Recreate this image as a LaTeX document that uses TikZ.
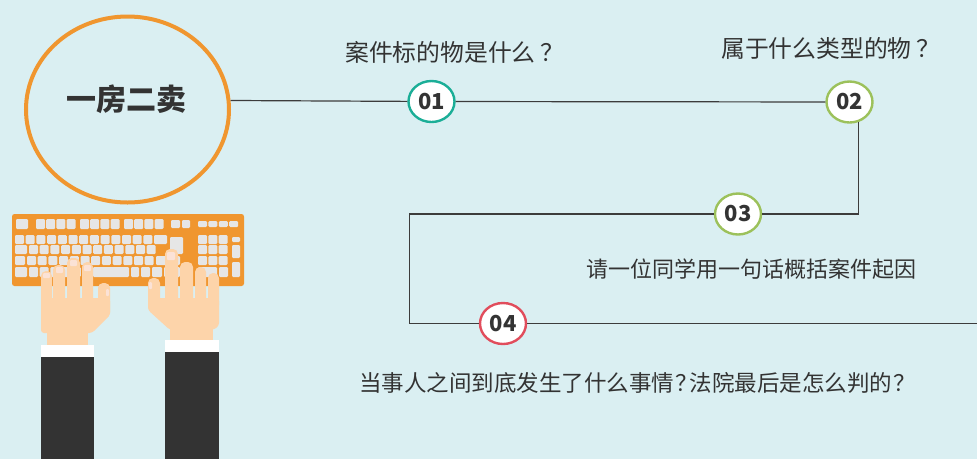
\documentclass[tikz,border=0pt]{standalone}
\usepackage{fontspec}
\setmainfont{Noto Sans CJK SC}
\usetikzlibrary{shapes.geometric}
\definecolor{bg}{HTML}{DAEFF2}
\definecolor{ink}{HTML}{333333}
\definecolor{wire}{HTML}{3C3C3C}
\definecolor{accent}{HTML}{F0962F}
\definecolor{teal}{HTML}{1BAE97}
\definecolor{leaf}{HTML}{9CC15B}
\definecolor{rose}{HTML}{E14D5C}
\definecolor{keycap}{HTML}{E6E6E6}
\definecolor{skin}{HTML}{FDD4AA}
\definecolor{nail}{HTML}{FBE2D6}
\definecolor{suit}{HTML}{333333}
% question marks: one set a little apart, one set tighter
\newcommand\wideq{\kern0.2em？\kern-0.2em}
\newcommand\tightq{\kern0.05em？\kern-0.35em}
\tikzset{
  badge/.style={ellipse, draw=#1, line width=2.4pt, fill=white,
    minimum width=46pt, minimum height=41pt, inner sep=0pt,
    font=\fontsize{22}{22}\selectfont\bfseries, text=ink},
  question/.style={anchor=west, inner sep=0pt, text=ink,
    font=\fontsize{22}{22}\selectfont},
  bigquestion/.style={question, font=\fontsize{23.8}{24}\selectfont},
  longquestion/.style={question, font=\fontsize{22.5}{23}\selectfont},
  wireline/.style={draw=wire, line width=1.2pt},
  key/.style={fill=keycap, rounded corners=1.2pt},
  finger/.style={fill=skin, rounded corners=5pt},
}
\begin{document}
\begin{tikzpicture}[x=1pt,y=-1pt]
\fill[bg] (0,0) rectangle (977,459);
\useasboundingbox (0,0) rectangle (977,459);

% ---------- keyboard ----------
\fill[accent, rounded corners=2.5pt] (12,214) rectangle (244,286);
% function row
\fill[key] (16,219) rectangle (28,229);
\foreach \gx in {36,80,124}{
  \foreach \i in {0,...,3}{
    \fill[key] ({\gx+10.2*\i},219) rectangle ({\gx+10.2*\i+9},229);
  }
}
\fill[key] (171,220) rectangle (180,228);
\fill[key] (182,220) rectangle (190,228);
\foreach \i in {0,...,3}{
  \fill[key] ({198+10.4*\i},221) rectangle ({198+10.4*\i+9},227);
}
% number row
\foreach \i in {0,...,12}{
  \fill[key] ({15+10.7*\i},235) rectangle ({15+10.7*\i+9},244);
}
\fill[key] (154,235) rectangle (167,244);
\fill[key] (170,237) rectangle (183,254);
% upper letter row
\fill[key] (15,245) rectangle (27,254);
\foreach \i in {0,...,11}{
  \fill[key] ({29+10.7*\i},245) rectangle ({29+10.7*\i+9},254);
}
% home row
\fill[key] (15,256) rectangle (25,265);
\foreach \i in {0,...,11}{
  \fill[key] ({27+10.7*\i},256) rectangle ({27+10.7*\i+9},265);
}
\fill[key] (156,256) rectangle (180,265);
% bottom row
\fill[key] (15,267) rectangle (27,277);
\foreach \i in {0,...,5}{
  \fill[key] ({29+10.7*\i},267) rectangle ({29+10.7*\i+9},277);
}
\fill[key] (93,267) rectangle (129,277);
\fill[key] (131,267) rectangle (139,277);
\fill[key] (141,267) rectangle (150,277);
\fill[key] (152,267) rectangle (162,277);
\fill[key] (164,267) rectangle (180,277);
% numeric pad
\foreach \r in {235,245,256}{
  \foreach \i in {0,...,2}{
    \fill[key] ({198+10.3*\i},\r) rectangle ({198+10.3*\i+9},{\r+9});
  }
}
\fill[key] (198,267) rectangle (217,277);
\fill[key] (219,267) rectangle (228,277);
\fill[key] (232,237) rectangle (240,242);
\fill[key] (232,245) rectangle (240,258);
\fill[key] (232,262) rectangle (240,277);

% ---------- left hand ----------
\fill[skin] (47,320) rectangle (88,346);
\fill[skin, rounded corners=3pt] (41,298) -- (110,298) -- (110,315) -- (92,333)
  -- (41,333) -- cycle;
\fill[finger] (41,271) rectangle (52,318);
\fill[finger] (53,265) rectangle (65,318);
\fill[finger] (67,258) rectangle (80,318);
\fill[finger] (82,262) rectangle (93,318);
\fill[finger] (98,283) rectangle (110,318);
\fill[nail, rounded corners=1pt] (43,273) rectangle (50,278);
\fill[nail, rounded corners=1pt] (56,267) rectangle (63,273);
\fill[nail, rounded corners=1pt] (70,260) rectangle (77,266);
\fill[nail, rounded corners=1pt] (84,265) rectangle (91,271);
\fill[nail, rounded corners=1pt] (106,289) rectangle (109,296);
\fill[white] (41,345) rectangle (94,357);
\fill[suit] (41,357) rectangle (94,459);

% ---------- right hand ----------
\fill[skin] (170,320) rectangle (213,341);
\fill[skin, rounded corners=3pt] (148,298) -- (219,298) -- (219,326) -- (213,330)
  -- (170,330) -- (148,310) -- cycle;
\fill[finger] (148,278) rectangle (160,312);
\fill[finger] (165,249) rectangle (178,310);
\fill[finger] (180,262) rectangle (193,310);
\fill[finger] (195,267) rectangle (206,310);
\fill[finger] (208,273) rectangle (219,310);
\fill[nail, rounded corners=1pt] (149,282) rectangle (152,289);
\fill[nail, rounded corners=1pt] (167,252) rectangle (175,260);
\fill[white] (165,340) rectangle (219,352);
\fill[suit] (165,352) rectangle (219,459);

% ---------- topic ----------
\node[ellipse, draw=accent, line width=4pt, minimum width=203pt,
  minimum height=186pt, inner sep=0pt] (topic) at (127.5,109.5) {};
\node[inner sep=0pt, text=ink, font=\fontsize{30}{30}\selectfont\bfseries]
  (title) at (126,99.5) {一房二卖};

% ---------- numbered steps ----------
\node[badge=teal] (n01) at (431.5,101.5) {01};
\node[badge=leaf] (n02) at (849.5,102) {02};
\node[badge=leaf] (n03) at (738,214) {03};
\node[badge=rose] (n04) at (503,323.5) {04};
\coordinate (turn) at (409.5,323.5);
\coordinate (tail) at (977,323.5);

\draw[wireline] (topic.5) -- (n01);
\draw[wireline] (n01) -- (n02);
\draw[wireline] (n02.-65) |- (n03);
\draw[wireline] (n03) -| (turn) -- (n04);
\draw[wireline] (n04) -- (tail);

% ---------- questions ----------
\node[bigquestion] (q1) at (345,52.5) {案件标的物是什么\wideq};
\node[bigquestion] (q2) at (721,48) {属于什么类型的物\wideq};
\node[question] (q3) at (586,269) {请一位同学用一句话概括案件起因};
\node[longquestion] (q4) at (359,383) {当事人之间到底发生了什么事情\tightq 法院最后是怎么判的\tightq};
\end{tikzpicture}
\end{document}
